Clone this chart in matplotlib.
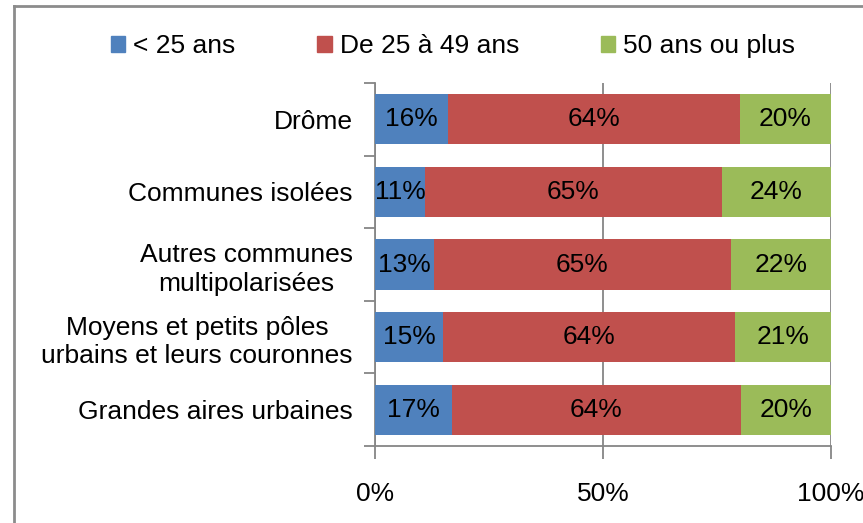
import matplotlib
matplotlib.use("Agg")
import matplotlib.pyplot as plt
from matplotlib.lines import Line2D
import numpy as np

plt.rcParams['font.family'] = ['Liberation Sans', 'DejaVu Sans']

categories = ["Drôme", "Communes isolées", "Autres communes\nmultipolarisées",
              "Moyens et petits pôles\nurbains et leurs couronnes", "Grandes aires urbaines"]
series_names = ["< 25 ans", "De 25 à 49 ans", "50 ans ou plus"]
under25 = [16, 11, 13, 15, 17]
from25to49 = [64, 65, 65, 64, 64]
over50 = [20, 24, 22, 21, 20]
xtick_labels = ["0%", "50%", "100%"]
colors = ["#4F81BD", "#C0504D", "#9BBB59"]

W, H = 863, 523
fig = plt.figure(figsize=(W / 100, H / 100), dpi=100)
ax = fig.add_axes([375 / W, (H - 446) / H, (831 - 375) / W, (446 - 83) / H])

data = np.array([under25, from25to49, over50], dtype=float)
totals = data.sum(axis=0)
pct = data / totals * 100
y = np.arange(len(categories))
left = np.zeros(len(categories))
FS = 19
for i, name in enumerate(series_names):
    bars = ax.barh(y, pct[i], left=left, height=0.69, color=colors[i], label=name, zorder=3)
    for j, b in enumerate(bars):
        ax.text(left[j] + pct[i][j] / 2, y[j], f"{int(data[i][j])}%", ha='center', va='center',
                fontsize=FS, color='black', zorder=4)
    left += pct[i]

ax.set_xlim(0, 100)
ax.set_ylim(len(categories) - 0.5, -0.5)
ax.set_xticks([0, 50, 100])
ax.set_xticklabels(xtick_labels, fontsize=FS)
ax.set_yticks(y)
ax.set_yticklabels(categories, fontsize=FS, multialignment='center', linespacing=1.25)
ax.set_yticks(np.arange(-0.5, len(categories), 1), minor=True)
ax.tick_params(axis='y', which='major', length=0, pad=16)
ax.tick_params(axis='y', which='minor', length=8, color='#868686', width=1.3, direction='out')
ax.tick_params(axis='x', which='major', length=9, color='#868686', width=1.3, direction='out', pad=17)
ax.xaxis.grid(True, color='#868686', linewidth=1.3, zorder=0)
for s in ['top', 'right']:
    ax.spines[s].set_visible(False)
for s in ['left', 'bottom']:
    ax.spines[s].set_color('#868686')
    ax.spines[s].set_linewidth(1.3)

# legend
handles = [plt.Rectangle((0, 0), 1, 1, color=c) for c in colors]
leg = fig.legend(handles, series_names, loc='center', bbox_to_anchor=(453 / W, 1 - 46 / H), ncol=3,
                 frameon=False, fontsize=FS, handlelength=0.55, handleheight=0.55, handletextpad=0.3,
                 columnspacing=3.1)

# outer frame
fig.add_artist(Line2D([14 / W, 14 / W], [0, 1 - 6 / H], transform=fig.transFigure, color='#8c8c8c', lw=2))
fig.add_artist(Line2D([14 / W, 1], [1 - 6 / H, 1 - 6 / H], transform=fig.transFigure, color='#8c8c8c', lw=2))

fig.savefig("out.png", dpi=100)
